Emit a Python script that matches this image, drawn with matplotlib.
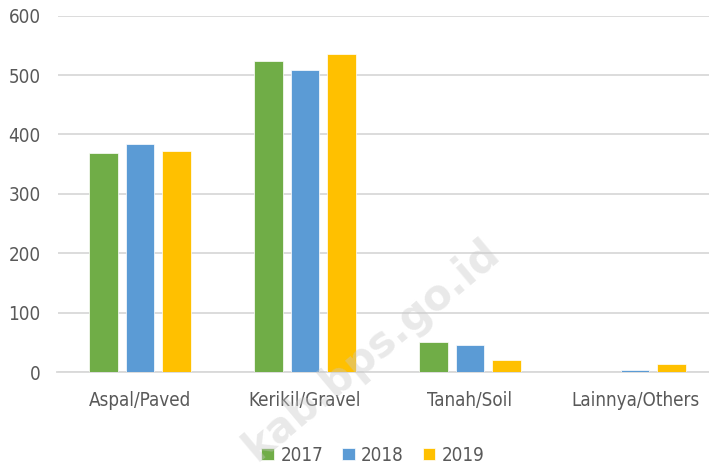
import matplotlib
matplotlib.use("Agg")
import matplotlib.pyplot as plt
import numpy as np

# data
categories = ["Aspal/Paved", "Kerikil/Gravel", "Tanah/Soil", "Lainnya/Others"]
years = ["2017", "2018", "2019"]
val_2017 = [368, 523, 50, 0]
val_2018 = [384, 508, 45, 3]
val_2019 = [372, 535, 20, 13]
colors = ["#70AD47", "#5B9BD5", "#FFC000"]

plt.rcParams['font.family'] = ['DejaVu Sans']
plt.rcParams['font.stretch'] = 'condensed'
text_color = "#595959"
grid_color = "#D9D9D9"


def main():
    fig = plt.figure(figsize=(7.09, 4.69), dpi=100)
    ax = fig.add_axes([57.5 / 709, 97 / 469, 660 / 709, 356.3 / 469])

    x = np.arange(len(categories))
    width = 0.175
    step = 0.221
    series = [val_2017, val_2018, val_2019]
    for i, (vals, yr) in enumerate(zip(series, years)):
        ax.bar(x + (i - 1) * step, vals, width, color=colors[i], label=yr,
               edgecolor="white", linewidth=0.5, zorder=3)

    ax.set_xlim(-0.5, len(categories) - 0.5)
    ax.set_ylim(0, 600)
    ax.set_yticks(range(0, 601, 100))
    ax.set_xticks(x)
    ax.set_xticklabels(categories)
    ax.yaxis.grid(True, color=grid_color, linewidth=1.3, zorder=0)
    ax.set_axisbelow(True)
    for s in ["top", "right", "left"]:
        ax.spines[s].set_visible(False)
    ax.spines["bottom"].set_color(grid_color)
    ax.spines["bottom"].set_linewidth(1.3)
    ax.tick_params(axis="both", length=0, labelsize=13.5, colors=text_color)
    ax.tick_params(axis="y", pad=12)
    ax.tick_params(axis="x", pad=14)

    ax.legend(loc="center", bbox_to_anchor=(373 / 709, 1 - 455 / 469),
              bbox_transform=fig.transFigure, ncol=3, frameon=False,
              fontsize=13.5, handlelength=0.67, handleheight=0.67,
              handletextpad=0.35, columnspacing=1.0, labelcolor=text_color)

    # faint watermark
    fig.text(372 / 709, 1 - 350 / 469, "kab.bps.go.id", rotation=40,
             fontsize=30, fontweight="bold", family="DejaVu Sans",
             stretch="normal", color="#C8C8C8", alpha=0.4,
             ha="center", va="center", zorder=10)

    fig.savefig("out.png", dpi=100)


if __name__ == "__main__":
    main()
